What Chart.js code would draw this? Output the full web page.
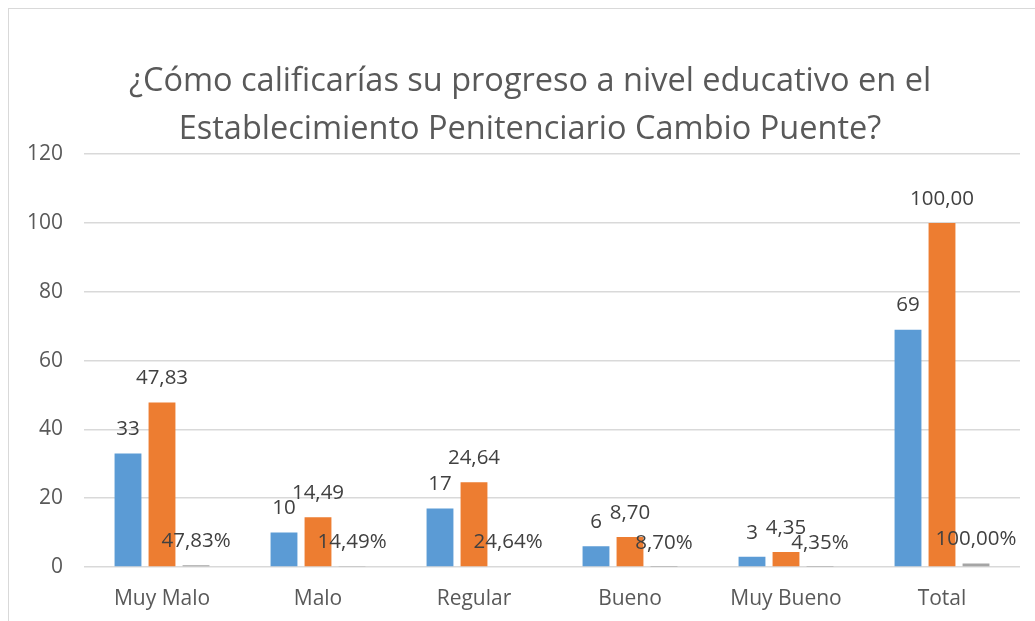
<!DOCTYPE html>
<html>
<head>
<meta charset="utf-8">
<script src="https://cdn.jsdelivr.net/npm/chart.js@4"></script>
<style>
html,body{margin:0;padding:0;background:#fff;}
#wrap{position:absolute;left:0;top:0;width:1035px;height:621px;}
#frame{position:absolute;left:8px;top:8px;width:1040px;height:640px;border:1px solid #d9d9d9;pointer-events:none;}
</style>
</head>
<body>
<div id="wrap"><canvas id="c" width="1035" height="621"></canvas></div>
<div id="frame"></div>
<script>
const titleLines = ["¿Cómo calificarías su progreso a nivel educativo en el", "Establecimiento Penitenciario Cambio Puente?"];
const categories = ["Muy Malo", "Malo", "Regular", "Bueno", "Muy Bueno", "Total"];
const frecuencia = [33, 10, 17, 6, 3, 69];
const porcentaje = [47.83, 14.49, 24.64, 8.70, 4.35, 100.00];
const proporcion = [0.4783, 0.1449, 0.2464, 0.0870, 0.0435, 1.0000];
const yTicks = [0, 20, 40, 60, 80, 100, 120];

const FONT = "'Open Sans', 'Noto Sans', sans-serif";
const fmt = (v, d) => v.toFixed(d).replace('.', ',');

const labelPlugin = {
  id: 'valueLabels',
  afterDatasetsDraw(chart) {
    const ctx = chart.ctx;
    ctx.save();
    ctx.font = "20.5px " + FONT;
    ctx.fillStyle = '#404040';
    ctx.textAlign = 'center';
    ctx.textBaseline = 'middle';
    chart.data.datasets.forEach((ds, di) => {
      const meta = chart.getDatasetMeta(di);
      meta.data.forEach((el, i) => {
        const v = ds.data[i];
        let t;
        if (di === 0) t = String(v);
        else if (di === 1) t = fmt(v, 2);
        else t = fmt(v * 100, 2) + '%';
        ctx.fillText(t, el.x, el.y - 24);
      });
    });
    ctx.restore();
  }
};

new Chart(document.getElementById('c'), {
  type: 'bar',
  data: {
    labels: categories,
    datasets: [
      { label: 'Frecuencia', data: frecuencia, backgroundColor: '#5B9BD5' },
      { label: 'Porcentaje', data: porcentaje, backgroundColor: '#ED7D31' },
      { label: 'Proporción', data: proporcion, backgroundColor: '#A5A5A5' }
    ]
  },
  options: {
    responsive: false,
    animation: false,
    events: [],
    categoryPercentage: 0.654,
    barPercentage: 0.79,
    layout: { padding: { left: 25, right: 0, top: 4, bottom: 0 } },
    plugins: {
      legend: { display: false },
      tooltip: { enabled: false },
      title: {
        display: true,
        text: titleLines,
        color: '#595959',
        font: { family: FONT, size: 32.5, weight: 'normal', lineHeight: 1.48 },
        padding: { top: 54, bottom: 0 }
      }
    },
    scales: {
      x: {
        afterFit(scale) { scale.height = 54; },
        grid: { display: false },
        border: { display: false },
        ticks: { color: '#595959', font: { family: FONT, size: 21 }, padding: 11 }
      },
      y: {
        min: 0, max: 120,
        afterFit(scale) { scale.width = 59; },
        afterBuildTicks(scale) { scale.ticks = yTicks.map(v => ({ value: v })); },
        grid: { color: '#d9d9d9', lineWidth: 1.5, drawTicks: false },
        border: { display: false },
        ticks: { color: '#595959', font: { family: FONT, size: 21 }, padding: 21 }
      },
      yRight: {
        position: 'right',
        min: 0, max: 120,
        afterFit(scale) { scale.width = 15; },
        grid: { display: false, drawTicks: false },
        border: { display: false },
        ticks: { display: false }
      }
    }
  },
  plugins: [labelPlugin]
});
</script>
</body>
</html>
